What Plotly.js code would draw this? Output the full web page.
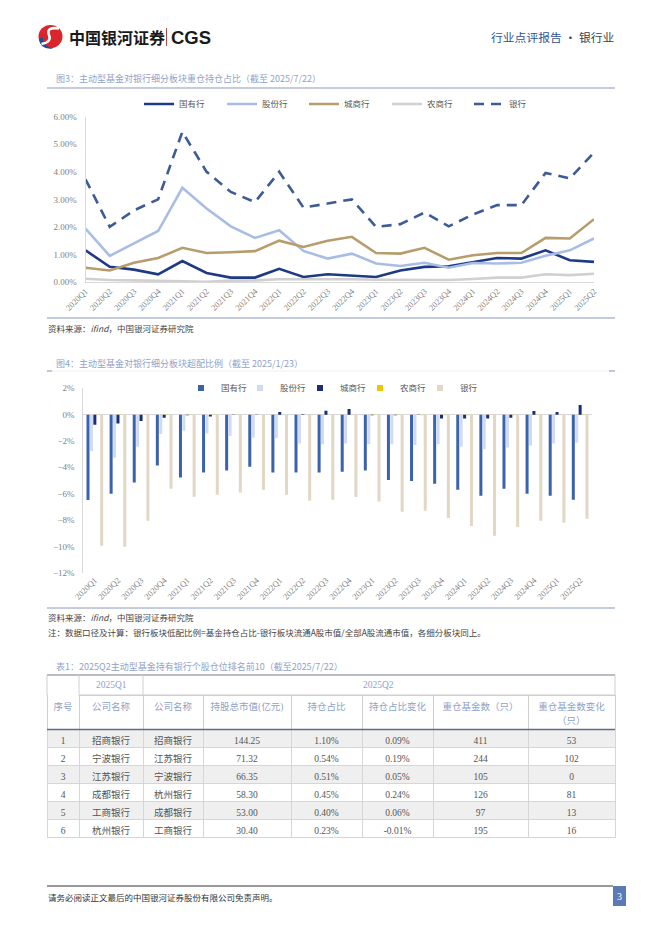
<!DOCTYPE html>
<html><head><meta charset="utf-8">
<script src="https://cdn.plot.ly/plotly-3.0.1.min.js"></script>
<style>html,body{margin:0;padding:0;background:#fff}#c{width:662px;height:936px}</style>
</head><body><div id="c"></div>
<script>
// ---------- data ----------
const quarters = ['2020Q1','2020Q2','2020Q3','2020Q4','2021Q1','2021Q2','2021Q3','2021Q4','2022Q1','2022Q2','2022Q3','2022Q4','2023Q1','2023Q2','2023Q3','2023Q4','2024Q1','2024Q2','2024Q3','2024Q4','2025Q1','2025Q2'];
const seriesNames = ['国有行','股份行','城商行','农商行','银行'];
// 图3 重仓持仓占比 (%)
const holdSOE   = [1.15,0.55,0.45,0.28,0.76,0.33,0.16,0.16,0.48,0.18,0.28,0.24,0.18,0.42,0.55,0.57,0.73,0.87,0.85,1.15,0.79,0.73];
const holdJoint = [1.94,0.95,1.40,1.85,3.42,2.67,2.02,1.60,1.88,1.13,0.85,1.03,0.67,0.58,0.70,0.52,0.69,0.67,0.70,0.95,1.15,1.58];
const holdCity  = [0.52,0.42,0.70,0.87,1.24,1.05,1.08,1.12,1.50,1.27,1.50,1.64,1.05,1.03,1.24,0.81,0.97,1.05,1.05,1.60,1.58,2.28];
const holdRural = [0.12,0.07,0.06,0.04,0.04,0.01,0.05,0.06,0.10,0.10,0.11,0.10,0.08,0.07,0.07,0.07,0.11,0.16,0.16,0.28,0.25,0.30];
const holdBank  = [3.73,2.00,2.60,3.00,5.45,4.00,3.27,2.90,4.00,2.70,2.85,3.00,2.00,2.10,2.52,2.02,2.45,2.79,2.79,3.96,3.76,4.70];
// 图4 超配比例 (%)
const overSOE   = [-6.48,-6.00,-5.16,-3.87,-4.78,-4.40,-4.25,-3.95,-4.40,-4.40,-4.40,-4.33,-4.25,-4.96,-5.04,-5.24,-5.70,-6.15,-5.62,-6.00,-6.15,-6.46];
const overJoint = [-2.76,-3.27,-2.43,-1.47,-1.22,-1.44,-1.62,-1.75,-1.80,-2.20,-2.25,-2.20,-2.25,-2.25,-2.30,-2.25,-2.43,-2.63,-2.50,-2.35,-2.20,-2.13];
const overCity  = [-0.76,-0.68,-0.48,-0.23,-0.05,-0.15,-0.02,0.02,0.20,0.03,0.30,0.43,-0.05,-0.05,-0.02,-0.30,-0.30,-0.30,-0.23,0.28,0.20,0.73];
const overRural = [-0.02,-0.03,-0.02,-0.02,-0.02,-0.02,-0.02,-0.01,-0.01,-0.01,-0.01,-0.02,-0.02,-0.02,-0.04,-0.05,-0.05,-0.03,-0.04,-0.02,-0.02,-0.02];
const overBank  = [-9.95,-10.03,-8.05,-5.62,-6.23,-6.08,-5.92,-5.70,-6.08,-6.53,-6.46,-6.25,-6.60,-7.37,-7.29,-7.85,-8.46,-9.19,-8.53,-8.05,-8.20,-7.90];
// 表1
const tblHeader = ['序号','公司名称','公司名称','持股总市值(亿元)','持仓占比','持仓占比变化','重仓基金数（只）','重仓基金数变化'];
const tblHeaderUnit = '（只）';
const tblRank   = ['1','2','3','4','5','6'];
const tblQ1Name = ['招商银行','宁波银行','江苏银行','成都银行','工商银行','杭州银行'];
const tblQ2Name = ['招商银行','江苏银行','宁波银行','杭州银行','成都银行','工商银行'];
const tblMV     = ['144.25','71.32','66.35','58.30','53.00','30.40'];
const tblShare  = ['1.10%','0.54%','0.51%','0.45%','0.40%','0.23%'];
const tblShareChg = ['0.09%','0.19%','0.05%','0.24%','0.06%','-0.01%'];
const tblFunds  = ['411','244','105','126','97','195'];
const tblFundsChg = ['53','102','0','81','13','16'];

// ---------- helpers ----------
const W = 662, H = 936;
const px = x => x / W, py = y => 1 - y / H;
const FONT = '"Liberation Serif","Noto Sans CJK SC",serif';
const CJK = '"Noto Sans CJK SC","Liberation Serif",sans-serif';

const lineColors = ['#1f3a85','#a9bde4','#b89c6c','#d0d0d0','#3d5c97'];
const barColors  = ['#3d62ad','#cfdcf0','#1a2e78','#f2c500','#e2d6c4'];
const holds = [holdSOE, holdJoint, holdCity, holdRural, holdBank];
const overs = [overSOE, overJoint, overCity, overRural, overBank];
// legend item left positions (px) for the two charts
const leg1X = [139, 222, 304, 387, 469];
const leg2X = [181, 240, 300, 360, 420];

const layout = {
  width: W, height: H, margin: {l: 0, r: 0, t: 0, b: 0},
  paper_bgcolor: '#fff', plot_bgcolor: 'rgba(0,0,0,0)',
  showlegend: true, barmode: 'group', bargap: 0.26, bargroupgap: 0.12,
  font: {family: FONT, color: '#595959'},
  shapes: [], annotations: []
};

const traces = [];
const legId = k => k === 0 ? 'legend' : 'legend' + (k + 1);
function addLegend(k, x, y) {
  layout[legId(k)] = {x: px(x), xanchor: 'left', y: py(y), yanchor: 'middle', itemwidth: 30,
    itemsizing: 'trace', font: {family: CJK, size: 8.5, color: '#595959'},
    bgcolor: 'rgba(0,0,0,0)', borderwidth: 0};
}
holds.forEach((v, i) => {
  traces.push({
    type: 'scatter', mode: 'lines', x: quarters, y: v, name: seriesNames[i],
    xaxis: 'x', yaxis: 'y', legend: legId(i),
    line: {color: lineColors[i], width: 2.6, dash: i === 4 ? '10px,7px' : 'solid'},
    hoverinfo: 'skip'
  });
  addLegend(i, leg1X[i], 104);
});
overs.forEach((v, i) => {
  traces.push({
    type: 'bar', x: quarters, y: v, name: seriesNames[i],
    xaxis: 'x2', yaxis: 'y2', showlegend: false,
    marker: {color: barColors[i]}, hoverinfo: 'skip'
  });
  // legend proxy with small square symbol
  traces.push({
    type: 'scatter', mode: 'markers', x: [null], y: [null], name: seriesNames[i],
    xaxis: 'x2', yaxis: 'y2', legend: legId(5 + i),
    marker: {color: barColors[i], symbol: 'square', size: 6}, hoverinfo: 'skip'
  });
  addLegend(5 + i, leg2X[i], 388);
});

// table
const rowFill = tblRank.map((_, r) => r % 2 === 0 ? '#efefef' : '#ffffff');
const cols = [tblRank, tblQ1Name, tblQ2Name, tblMV, tblShare, tblShareChg, tblFunds, tblFundsChg];
traces.push({
  type: 'table',
  domain: {x: [px(47), px(615)], y: [py(860), py(695)]},
  columnwidth: [32, 64, 60, 88, 71, 71, 95, 87],
  header: {
    values: tblHeader,
    height: 34,
    align: 'center',
    font: {family: FONT, size: 9.5, color: '#8ea2c8'},
    fill: {color: '#ffffff'},
    line: {color: '#cfcfcf', width: 1}
  },
  cells: {
    values: cols,
    height: 18,
    align: 'center',
    font: {family: FONT, size: 9.5, color: '#555555'},
    fill: {color: cols.map(() => rowFill)},
    line: {color: '#d6d6d6', width: 1}
  }
});

const axTick = {family: FONT, size: 9, color: '#7f7f7f'};
Object.assign(layout, {
  xaxis: {domain: [px(85.5), px(594)], anchor: 'y', type: 'category', tickangle: -45,
    tickfont: {family: FONT, size: 8.5, color: '#7f7f7f'}, showline: true, linecolor: '#d9d9d9',
    linewidth: 1, ticks: '', showgrid: false, zeroline: false, fixedrange: true},
  yaxis: {domain: [py(282), py(116.7)], anchor: 'x', range: [0, 6], dtick: 1, tickformat: '.2f',
    ticksuffix: '%', tickfont: axTick, showline: true, linecolor: '#d9d9d9', ticks: '',
    showgrid: false, zeroline: false, ticklabelstandoff: 6, fixedrange: true},
  xaxis2: {domain: [px(83.3), px(591.7)], anchor: 'y2', type: 'category', tickangle: -45,
    tickfont: {family: FONT, size: 8.5, color: '#7f7f7f'}, showline: false, ticks: '',
    showgrid: false, zeroline: false, fixedrange: true},
  yaxis2: {domain: [py(572.7), py(388.3)], anchor: 'x2', range: [-12, 2], dtick: 2,
    ticksuffix: '%', tickfont: axTick, showline: true, linecolor: '#d9d9d9', ticks: '',
    showgrid: false, zeroline: true, zerolinecolor: '#d9d9d9', zerolinewidth: 1,
    ticklabelstandoff: 6, fixedrange: true}
});

const S = layout.shapes, A = layout.annotations;
function hline(y, x0, x1, color, w) {
  S.push({type: 'line', xref: 'paper', yref: 'paper', x0: px(x0), x1: px(x1), y0: py(y), y1: py(y), line: {color, width: w}});
}
function vline(x, y0, y1, color, w) {
  S.push({type: 'line', xref: 'paper', yref: 'paper', x0: px(x), x1: px(x), y0: py(y0), y1: py(y1), line: {color, width: w}});
}
function text(t, x, y, opts) {
  A.push(Object.assign({xref: 'paper', yref: 'paper', x: px(x), y: py(y), text: t, showarrow: false,
    xanchor: 'left', yanchor: 'middle', font: {family: CJK, size: 9, color: '#333'}}, opts || {}));
}
function P(x, y) { return px(x) + ',' + py(y); }

// ---- header / logo ----
S.push({type: 'circle', xref: 'paper', yref: 'paper', x0: px(38.5), x1: px(62.5), y0: py(48), y1: py(25),
  fillcolor: '#d9262c', line: {width: 0}});
S.push({type: 'path', xref: 'paper', yref: 'paper',
  path: 'M' + P(39, 39) + ' Q' + P(40, 50) + ' ' + P(53, 48.5) + ' Q' + P(44, 47) + ' ' + P(42.5, 37) + ' Z',
  fillcolor: '#1f4e9c', line: {width: 0}});
S.push({type: 'path', xref: 'paper', yref: 'paper',
  path: 'M' + P(59, 28.5) + ' Q' + P(46, 26.5) + ' ' + P(49, 35) + ' Q' + P(52, 42) + ' ' + P(41.5, 44),
  line: {color: '#ffffff', width: 2.6}});
text('<b>中国银河证券</b>', 66.5, 37, {font: {family: CJK, size: 16, color: '#1a1a1a'}});
vline(166.5, 28, 46, '#b5473f', 1);
text('<b>CGS</b>', 168.5, 37.5, {font: {family: '"Liberation Sans",Arial,sans-serif', size: 18.5, color: '#1a1a1a'}});
text('<span style="color:#2f528f">行业点评报告</span><span style="color:#404040"> · 银行业</span>', 616, 37,
  {xanchor: 'right', font: {family: CJK, size: 11.8, color: '#404040'}});

// ---- figure 3 ----
text('图3：主动型基金对银行细分板块重仓持仓占比（截至 2025/7/22）', 54, 78, {font: {family: CJK, size: 9, color: '#8fa3c8'}});
hline(88, 47, 615, '#8a97b5', 1);
hline(318, 47, 615, '#8a97b5', 1);
text('资料来源：<i>ifind</i>，中国银河证券研究院', 46, 328, {font: {family: CJK, size: 8.5, color: '#444'}});

// ---- figure 4 ----
text('图4：主动型基金对银行细分板块超配比例（截至 2025/1/23）', 54, 364, {font: {family: CJK, size: 9, color: '#8fa3c8'}});
hline(371, 47, 615, '#eef0f5', 1);
hline(371, 47, 52, '#8a97b5', 1);
hline(371, 609, 615, '#8a97b5', 1);
hline(608, 47, 615, '#8a97b5', 1);
text('资料来源：<i>ifind</i>，中国银河证券研究院', 46, 617, {font: {family: CJK, size: 8.5, color: '#444'}});
text('注：数据口径及计算：银行板块低配比例=基金持仓占比-银行板块流通A股市值/全部A股流通市值，各细分板块同上。', 46, 632,
  {font: {family: CJK, size: 8.5, color: '#444'}});

// ---- table 1 ----
text('表1：2025Q2主动型基金持有银行个股仓位排名前10（截至2025/7/22）', 54, 666, {font: {family: CJK, size: 9, color: '#8fa3c8'}});
hline(675, 47, 615, '#777d8c', 1.2);
vline(47, 675, 695, '#cfcfcf', 1);
vline(79, 675, 695, '#cfcfcf', 1);
vline(143, 675, 695, '#cfcfcf', 1);
vline(615, 675, 695, '#cfcfcf', 1);
hline(695, 79, 615, '#cfcfcf', 1);
S.push({type: 'rect', xref: 'paper', yref: 'paper', x0: px(48), x1: px(78.5), y0: py(697), y1: py(693),
  fillcolor: '#ffffff', line: {width: 0}});
text('2025Q1', 111, 685, {xanchor: 'center', font: {family: FONT, size: 9.5, color: '#8ea2c8'}});
text('2025Q2', 379, 685, {xanchor: 'center', font: {family: FONT, size: 9.5, color: '#8ea2c8'}});
text(tblHeaderUnit, 571.5, 720, {xanchor: 'center', font: {family: FONT, size: 9.5, color: '#8ea2c8'}});
hline(729.5, 47, 615, '#5f6b85', 1.4);

// ---- footer ----
hline(886, 47, 613, '#333333', 1);
S.push({type: 'rect', xref: 'paper', yref: 'paper', x0: px(613), x1: px(626), y0: py(906), y1: py(886),
  fillcolor: '#5b7bb7', line: {width: 0}});
text('3', 619.5, 896, {xanchor: 'center', font: {family: FONT, size: 10, color: '#ffffff'}});
text('请务必阅读正文最后的中国银河证券股份有限公司免责声明。', 46, 897, {font: {family: CJK, size: 8.5, color: '#333'}});

Plotly.newPlot('c', traces, layout, {displayModeBar: false, staticPlot: true});
</script></body></html>
